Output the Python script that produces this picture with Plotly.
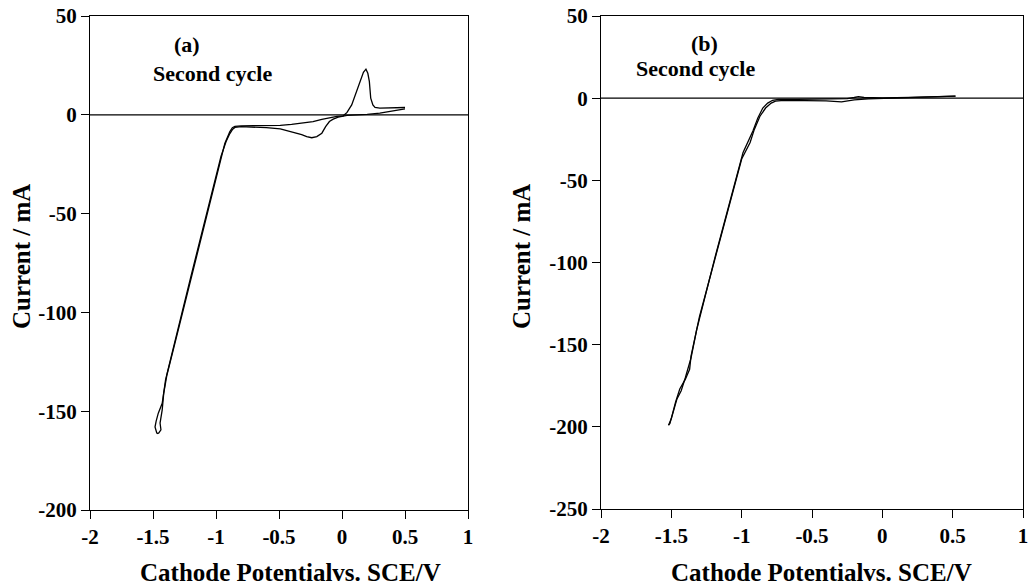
import plotly.graph_objects as go

# ---------------- data ----------------
# Panel (a): cathodic scan 0.5 V -> -1.46 V, then anodic scan back to 0.5 V
a_fwd_x = [0.50, 0.40, 0.30, 0.20, 0.10, 0.04, -0.03, -0.07, -0.10, -0.13, -0.16, -0.20,
           -0.24, -0.28, -0.32, -0.36, -0.42, -0.49, -0.60, -0.70, -0.80, -0.85, -0.87,
           -0.89, -0.92, -0.96, -1.00, -1.10, -1.20, -1.30, -1.40, -1.427, -1.458, -1.475,
           -1.484, -1.47, -1.458]
a_fwd_y = [3.0, 1.8, 0.8, 0.2, -0.1, -0.3, -1.2, -2.2, -3.4, -6.0, -9.3, -11.0,
           -11.6, -11.0, -10.0, -9.3, -8.2, -7.1, -6.5, -6.2, -6.0, -6.4, -7.5,
           -9.5, -13.5, -21.0, -31.0, -57.0, -82.0, -108.0, -134.0, -146.0, -151.0, -155.0,
           -158.0, -161.0, -161.4]
a_rev_x = [-1.458, -1.437, -1.444, -1.427, -1.415, -1.39, -1.29, -1.19, -1.09, -0.99,
           -0.93, -0.89, -0.87, -0.85, -0.80, -0.70, -0.60, -0.49, -0.40, -0.30, -0.23,
           -0.16, -0.095, -0.04, 0.01, 0.04, 0.077, 0.11, 0.143, 0.17, 0.19, 0.205, 0.217,
           0.228, 0.245, 0.262, 0.30, 0.38, 0.50]
a_rev_y = [-161.4, -159.4, -156.0, -149.3, -141.0, -131.8, -106.4, -81.0, -55.6, -30.2,
           -14.5, -8.5, -6.5, -5.9, -5.6, -5.5, -5.5, -5.4, -4.8, -4.0, -3.4,
           -2.3, -1.4, -0.8, -0.5, 1.2, 5.0, 10.5, 16.9, 21.5, 23.1, 21.0, 16.9,
           8.4, 5.0, 3.7, 3.4, 3.4, 3.7]

# Panel (b)
b_fwd_x = [0.52, 0.30, 0.10, 0.00, -0.10, -0.20, -0.29, -0.40, -0.55, -0.70, -0.76,
           -0.79, -0.83, -0.87, -0.91, -0.94, -1.00, -1.10, -1.20, -1.25, -1.30, -1.36,
           -1.37, -1.40, -1.44, -1.47, -1.51, -1.52]
b_fwd_y = [1.3, 0.8, 0.3, 0.0, -0.4, -1.0, -2.2, -1.6, -1.4, -1.4, -1.8,
           -3.0, -6.0, -11.0, -19.0, -27.0, -37.0, -69.0, -101.0, -117.0, -133.0, -157.0,
           -165.0, -171.0, -177.0, -185.0, -198.0, -199.0]
b_rev_x = [-1.52, -1.50, -1.46, -1.43, -1.40, -1.36, -1.32, -1.28, -1.19, -1.09, -0.99,
           -0.92, -0.885, -0.85, -0.815, -0.78, -0.74, -0.60, -0.40, -0.25, -0.20, -0.17,
           -0.13, 0.00, 0.20, 0.40, 0.52]
b_rev_y = [-199.0, -195.0, -183.0, -178.0, -170.0, -158.0, -141.0, -127.0, -97.0, -65.0,
           -33.0, -20.0, -12.0, -6.0, -3.0, -1.3, -0.8, -0.7, -0.5, -0.3, 0.4, 0.9,
           0.4, 0.2, 0.5, 0.8, 1.2]

x_ticks = [-2, -1.5, -1, -0.5, 0, 0.5, 1]
x_ticktext = ["-2", "-1.5", "-1", "-0.5", "0", "0.5", "1"]
ya_ticks = [-200, -150, -100, -50, 0, 50]
ya_ticktext = ["-200", "-150", "-100", "-50", "0", "50"]
yb_ticks = [-250, -200, -150, -100, -50, 0, 50]
yb_ticktext = ["-250", "-200", "-150", "-100", "-50", "0", "50"]

x_title = "Cathode Potentialvs. SCE/V"
y_title = "Current / mA"
panel_labels = ["(a)", "(b)"]
cycle_label = "Second cycle"

# ---------------- figure ----------------
FONT = "Liberation Serif"
line = dict(color="black", width=1.3)

fig = go.Figure()
fig.add_trace(go.Scatter(x=a_fwd_x, y=a_fwd_y, mode="lines", line=line, xaxis="x", yaxis="y"))
fig.add_trace(go.Scatter(x=a_rev_x, y=a_rev_y, mode="lines", line=line, xaxis="x", yaxis="y"))
fig.add_trace(go.Scatter(x=b_fwd_x, y=b_fwd_y, mode="lines", line=line, xaxis="x2", yaxis="y2"))
fig.add_trace(go.Scatter(x=b_rev_x, y=b_rev_y, mode="lines", line=line, xaxis="x2", yaxis="y2"))

tick_font = dict(family=FONT, size=21, color="black", weight="bold")
axis_common = dict(showline=True, linecolor="black", linewidth=1.3, mirror=True,
                   ticks="outside", ticklen=8, tickwidth=1.3, tickcolor="black",
                   showgrid=False, zeroline=False, tickfont=tick_font,
                   ticklabeloverflow="allow", fixedrange=True, automargin=False)

fig.update_layout(
    width=1028, height=586, autosize=False,
    margin=dict(l=0, r=0, t=0, b=0, pad=0),
    font=dict(family=FONT, size=21, color="black"),
    paper_bgcolor="white", plot_bgcolor="white",
    showlegend=False,
    xaxis=dict(domain=[90 / 1028, 468 / 1028], range=[-2, 1], tickvals=x_ticks,
               ticktext=x_ticktext, anchor="y", **axis_common),
    yaxis=dict(domain=[1 - 510 / 586, 1 - 16 / 586], range=[-200, 50], tickvals=ya_ticks,
               ticktext=ya_ticktext, anchor="x", **axis_common),
    xaxis2=dict(domain=[601 / 1028, 1023 / 1028], range=[-2, 1], tickvals=x_ticks,
                ticktext=x_ticktext, anchor="y2", **axis_common),
    yaxis2=dict(domain=[1 - 509 / 586, 1 - 16 / 586], range=[-250, 50], tickvals=yb_ticks,
                ticktext=yb_ticktext, anchor="x2", **axis_common),
)

# zero lines
for xr, yr in (("x", "y"), ("x2", "y2")):
    fig.add_shape(type="line", xref=xr, yref=yr, x0=-2, x1=1, y0=0, y1=0,
                  line=dict(color="black", width=1.3))

ann_font = dict(family=FONT, size=22, color="black", weight="bold")
title_font = dict(family=FONT, size=25, color="black", weight="bold")

# panel labels / text
fig.add_annotation(x=-1.23, y=35.4, xref="x", yref="y", text=panel_labels[0],
                   showarrow=False, font=ann_font)
fig.add_annotation(x=-1.024, y=20.7, xref="x", yref="y", text=cycle_label,
                   showarrow=False, font=ann_font)
fig.add_annotation(x=-1.261, y=33.5, xref="x2", yref="y2", text=panel_labels[1],
                   showarrow=False, font=ann_font)
fig.add_annotation(x=-1.327, y=18.2, xref="x2", yref="y2", text=cycle_label,
                   showarrow=False, font=ann_font)

# axis titles
for xc in (290, 821):
    fig.add_annotation(x=xc / 1028, y=1 - 572 / 586, xref="paper", yref="paper",
                       text=x_title, showarrow=False, font=title_font,
                       xanchor="center", yanchor="middle")
for xc in (21, 521):
    fig.add_annotation(x=xc / 1028, y=1 - 257 / 586, xref="paper", yref="paper",
                       text=y_title, showarrow=False, font=title_font,
                       textangle=-90, xanchor="center", yanchor="middle")

fig.write_html("out.html")
